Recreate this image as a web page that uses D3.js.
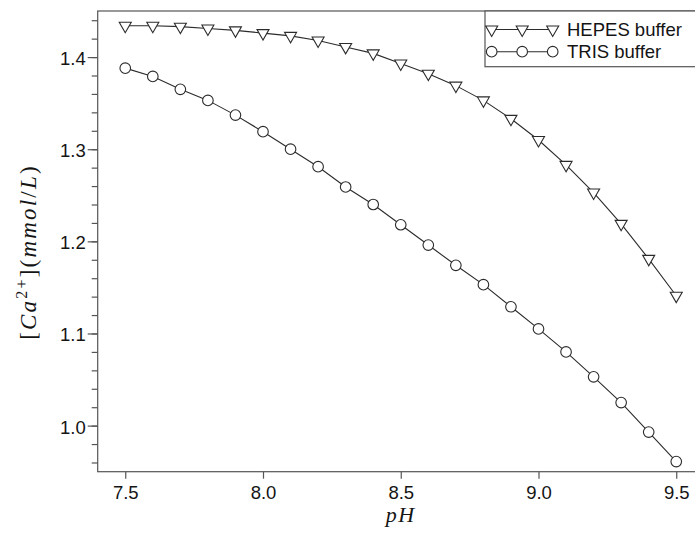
<!DOCTYPE html>
<html>
<head>
    <meta charset="UTF-8">
    <title>Ca2+ vs pH</title>
    <style>
        body { margin: 0; background: #fff; }
        svg { display: block; }
        .tick text { font-family: "Liberation Sans", Arial, sans-serif; font-size: 18.5px; fill: #141414; }
    </style>
    <script src="https://cdn.jsdelivr.net/npm/d3@7/dist/d3.min.js"></script>
</head>
<body>
<svg id="chart" width="695" height="533"></svg>
<script>
// data
var pH = [7.5, 7.6, 7.7, 7.8, 7.9, 8.0, 8.1, 8.2, 8.3, 8.4, 8.5, 8.6, 8.7, 8.8, 8.9, 9.0, 9.1, 9.2, 9.3, 9.4, 9.5]
var hepes = [1.434, 1.434, 1.433, 1.431, 1.429, 1.426, 1.423, 1.418, 1.411, 1.404, 1.393,
             1.382, 1.369, 1.353, 1.333, 1.310, 1.283, 1.253, 1.219, 1.181, 1.141]
var tris = [1.388, 1.379, 1.365, 1.353, 1.337, 1.319, 1.300, 1.281, 1.259, 1.240, 1.218,
            1.196, 1.174, 1.153, 1.129, 1.105, 1.080, 1.053, 1.025, 0.993, 0.961]
var xTicks = [7.5, 8.0, 8.5, 9.0, 9.5]
var yTicks = [1.0, 1.1, 1.2, 1.3, 1.4]
var seriesNames = ["HEPES buffer", "TRIS buffer"]

function draw() {
  var svg = d3.select("#chart")
  var mLeft = 97.7, mRight = 703.8, mTop = 11, mBottom = 471.7
  var ink = "#2b2b2b", frame = "#555"

  var x = d3.scaleLinear().domain([7.4, 9.6]).range([mLeft, mRight])
  var y = d3.scaleLinear().domain([0.95, 1.45]).range([mBottom, mTop])

  // frame (right side falls outside the picture)
  svg.append("rect")
     .attr("x", mLeft).attr("y", mTop)
     .attr("width", mRight - mLeft).attr("height", mBottom - mTop)
     .attr("fill", "none").attr("stroke", frame).attr("stroke-width", 1.2)

  var xAxis = svg.append("g")
     .attr("transform", "translate(0," + mBottom + ")")
     .call(d3.axisBottom(x).tickValues(xTicks).tickFormat(d3.format(".1f")).tickSize(7).tickPadding(4))
  xAxis.select(".domain").remove()
  xAxis.selectAll("line").attr("stroke", frame).attr("stroke-width", 1.2)
  xAxis.selectAll("text").attr("dy", "0.86em")

  // minor y ticks every 0.02
  var yMinor = svg.append("g")
     .attr("transform", "translate(" + mLeft + ",0)")
     .call(d3.axisLeft(y).tickValues(d3.range(0.96, 1.445, 0.02)).tickSize(6).tickFormat(""))
  yMinor.select(".domain").remove()
  yMinor.selectAll("line").attr("stroke", frame).attr("stroke-width", 1.2)

  var yAxis = svg.append("g")
     .attr("transform", "translate(" + mLeft + ",0)")
     .call(d3.axisLeft(y).tickValues(yTicks).tickFormat(d3.format(".1f")).tickSize(10).tickPadding(2))
  yAxis.select(".domain").remove()
  yAxis.selectAll("line").attr("stroke", frame).attr("stroke-width", 1.2)
  yAxis.selectAll("text").attr("dy", "0.4em")

  // markers
  function triangle(s) {
    var h = s * Math.sqrt(3) / 2
    return "M0," + (2 * h / 3) + "L" + (-s / 2) + "," + (-h / 3) + "L" + (s / 2) + "," + (-h / 3) + "Z"
  }
  function circle(r) {
    return "M" + r + ",0A" + r + "," + r + " 0 1,1 " + (-r) + ",0A" + r + "," + r + " 0 1,1 " + r + ",0Z"
  }
  var markers = [triangle(12), circle(5.3)]
  var series = [hepes, tris]

  var line = d3.line().x(function(d) { return x(d[0]) }).y(function(d) { return y(d[1]) })

  series.forEach(function(vals, i) {
    var pts = pH.map(function(p, j) { return [p, vals[j]] })
    svg.append("path").datum(pts)
       .attr("d", line).attr("fill", "none").attr("stroke", ink).attr("stroke-width", 1.1)
    svg.selectAll(".m" + i).data(pts).enter().append("path")
       .attr("class", "m" + i)
       .attr("d", markers[i])
       .attr("transform", function(d) { return "translate(" + x(d[0]) + "," + y(d[1]) + ")" })
       .attr("fill", "#fff").attr("stroke", ink).attr("stroke-width", 1.1)
  })

  // legend
  var lg = svg.append("g")
  lg.append("rect").attr("x", 485).attr("y", mTop).attr("width", 230).attr("height", 55.7)
    .attr("fill", "#fff").attr("stroke", frame).attr("stroke-width", 1.2)
  var legendX = [491.7, 522.2, 552.7], legendY = [29.5, 51.7]
  seriesNames.forEach(function(name, i) {
    lg.append("line").attr("x1", legendX[0]).attr("x2", legendX[2])
      .attr("y1", legendY[i]).attr("y2", legendY[i]).attr("stroke", ink).attr("stroke-width", 1.1)
    legendX.forEach(function(lx) {
      lg.append("path").attr("d", markers[i])
        .attr("transform", "translate(" + lx + "," + legendY[i] + ")")
        .attr("fill", "#fff").attr("stroke", ink).attr("stroke-width", 1.1)
    })
    lg.append("text").attr("x", 567).attr("y", legendY[i] + 6.5)
      .style("font-family", "'Liberation Sans', Arial, sans-serif").style("font-size", "18.5px")
      .attr("fill", "#141414").text(name)
  })

  // axis titles (math style)
  var serif = "'Liberation Serif', 'Times New Roman', serif"
  svg.append("text").attr("x", x(8.5)).attr("y", 522)
     .attr("text-anchor", "middle")
     .style("font-family", serif).style("font-size", "22px").style("font-style", "italic")
     .style("letter-spacing", "1.5px").attr("fill", "#141414").text("pH")

  var yl = svg.append("text")
     .attr("transform", "translate(36,252) rotate(-90)")
     .attr("text-anchor", "middle")
     .style("font-family", serif).style("font-size", "23px")
     .style("letter-spacing", "2.2px").attr("fill", "#141414")
  yl.append("tspan").text("[")
  yl.append("tspan").style("font-style", "italic").text("Ca")
  yl.append("tspan").attr("dy", -9).style("font-size", "16px").text("2+")
  yl.append("tspan").attr("dy", 9).text("](")
  yl.append("tspan").style("font-style", "italic").text("mmol")
  yl.append("tspan").text("/")
  yl.append("tspan").style("font-style", "italic").text("L")
  yl.append("tspan").text(")")
}
draw()
</script>
</body>
</html>
